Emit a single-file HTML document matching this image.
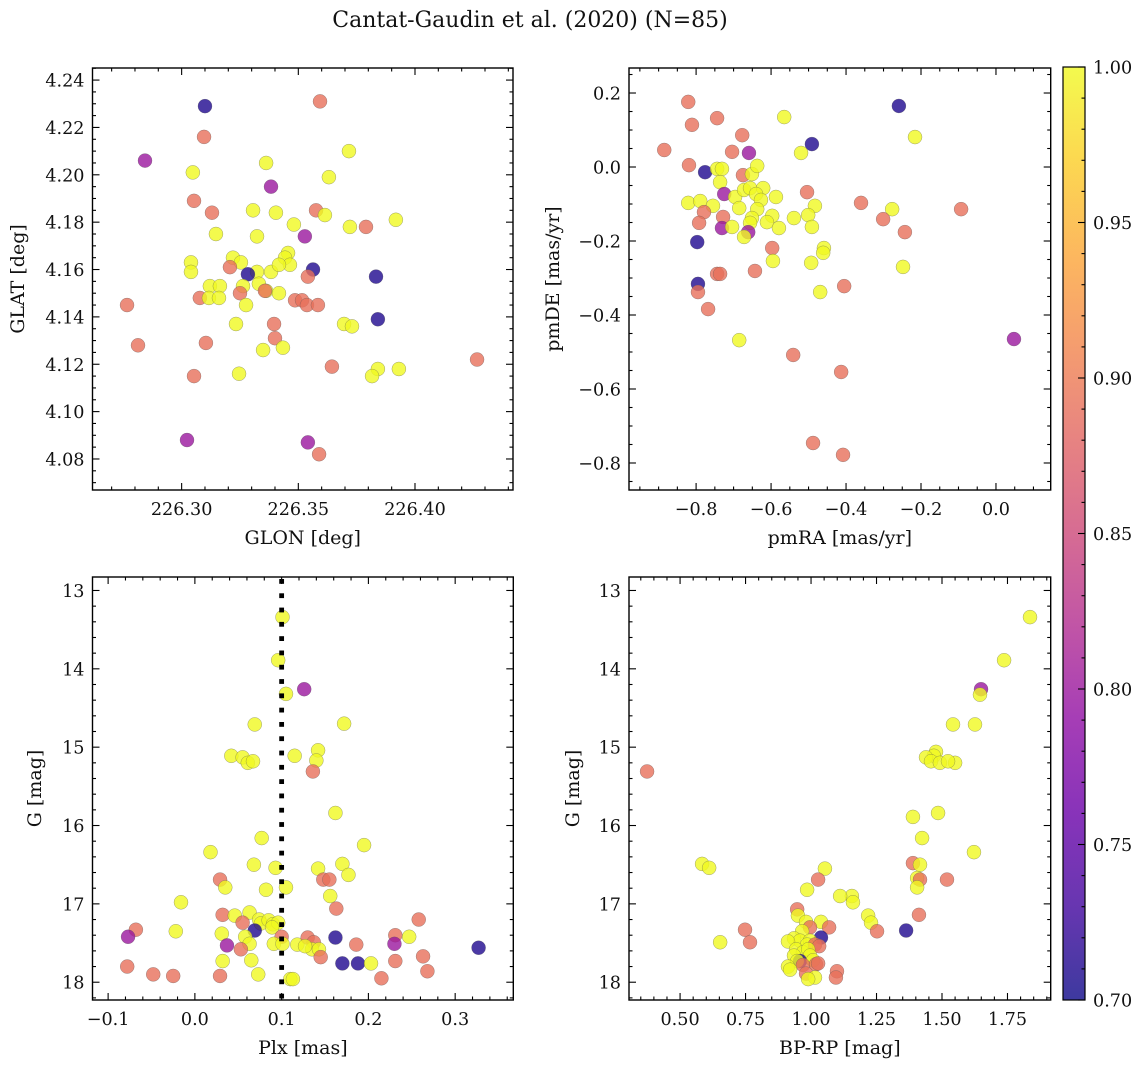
<!DOCTYPE html>
<html><head><meta charset="utf-8"><style>
html,body{margin:0;padding:0;background:#fff;}
svg{display:block;font-family:"DejaVu Serif","Liberation Serif",serif;}
</style></head><body>
<svg id="fig" xmlns="http://www.w3.org/2000/svg" width="1148" height="1067" viewBox="0 0 1148 1067">
<rect x="0" y="0" width="1148" height="1067" fill="#fff"/>
<text x="530" y="27" font-size="22" text-anchor="middle" fill="#111">Cantat-Gaudin et al. (2020) (N=85)</text>
<defs>
<linearGradient id="plasmaGrad" x1="0" y1="1" x2="0" y2="0">
<stop offset="0" stop-color="#0d0887"/><stop offset="0.1" stop-color="#41049d"/><stop offset="0.2" stop-color="#6a00a8"/><stop offset="0.3" stop-color="#8f0da4"/><stop offset="0.4" stop-color="#b12a90"/><stop offset="0.5" stop-color="#cc4778"/><stop offset="0.6" stop-color="#e16462"/><stop offset="0.7" stop-color="#f2844b"/><stop offset="0.8" stop-color="#fca636"/><stop offset="0.9" stop-color="#fcce25"/><stop offset="1" stop-color="#f0f921"/>
</linearGradient>
</defs>
</svg>
<script>
// ---- Panel 1: GLON vs GLAT ----
const glon = [226.3100,226.2843,226.3593,226.3096,226.3048,226.3362,226.3383,226.3717,226.3631,226.3053,226.3130,226.3306,226.3404,226.3576,226.3614,226.3918,226.3790,226.3721,226.3528,226.3147,226.3323,226.3481,226.3220,226.3254,226.3207,226.3040,226.3040,226.3456,226.3443,226.3464,226.3323,226.3383,226.3417,226.3563,226.3284,226.3541,226.3263,226.3331,226.3362,226.3417,226.3121,226.3164,226.3078,226.3117,226.3160,226.3250,226.3276,226.3357,226.3486,226.3516,226.3537,226.3584,226.3833,226.3841,226.2766,226.3233,226.3396,226.3696,226.3730,226.3400,226.3434,226.3349,226.3104,226.2813,226.3644,226.3841,226.3816,226.3931,226.4266,226.3053,226.3246,226.3023,226.3541,226.3589];
const glat = [4.229,4.206,4.231,4.216,4.201,4.205,4.195,4.210,4.199,4.189,4.184,4.185,4.184,4.185,4.183,4.181,4.178,4.178,4.174,4.175,4.174,4.179,4.165,4.163,4.161,4.163,4.159,4.167,4.165,4.162,4.159,4.159,4.162,4.160,4.158,4.157,4.153,4.154,4.151,4.150,4.153,4.153,4.148,4.148,4.148,4.150,4.145,4.151,4.147,4.147,4.145,4.145,4.157,4.139,4.145,4.137,4.137,4.137,4.136,4.131,4.127,4.126,4.129,4.128,4.119,4.118,4.115,4.118,4.122,4.115,4.116,4.088,4.087,4.082];
const prob1 = [0.71,0.80,0.89,0.89,1,1,0.80,1,1,0.89,0.89,1,1,0.89,1,1,0.89,1,0.80,1,1,1,1,1,0.89,1,1,1,1,1,1,1,1,0.71,0.71,0.89,1,1,1,1,1,1,0.89,1,1,0.89,1,0.89,0.89,0.89,0.89,0.89,0.71,0.71,0.89,1,0.89,1,1,0.89,1,1,0.89,0.89,0.89,1,1,1,0.89,0.89,1,0.80,0.80,0.89];
// ---- Panel 2: pmRA vs pmDE ----
const pmra = [-0.821,-0.744,-0.811,-0.565,-0.259,-0.677,-0.216,-0.885,-0.704,-0.659,-0.491,-0.520,-0.819,-0.776,-0.744,-0.731,-0.736,-0.675,-0.651,-0.637,-0.725,-0.696,-0.672,-0.656,-0.621,-0.640,-0.627,-0.587,-0.821,-0.789,-0.755,-0.779,-0.685,-0.637,-0.504,-0.483,-0.501,-0.491,-0.539,-0.597,-0.611,-0.579,-0.651,-0.656,-0.792,-0.728,-0.731,-0.704,-0.661,-0.672,-0.797,-0.360,-0.277,-0.301,-0.243,-0.597,-0.595,-0.459,-0.461,-0.493,-0.643,-0.744,-0.736,-0.248,-0.795,-0.795,-0.405,-0.469,-0.768,-0.685,-0.541,-0.413,0.048,-0.488,-0.408,-0.093];
const pmde = [0.176,0.132,0.114,0.135,0.165,0.086,0.081,0.046,0.041,0.038,0.062,0.038,0.005,-0.014,-0.005,-0.005,-0.041,-0.022,-0.019,0.003,-0.073,-0.081,-0.062,-0.057,-0.057,-0.073,-0.089,-0.081,-0.097,-0.092,-0.105,-0.122,-0.111,-0.114,-0.068,-0.105,-0.130,-0.162,-0.138,-0.132,-0.149,-0.165,-0.138,-0.151,-0.151,-0.135,-0.165,-0.162,-0.176,-0.189,-0.203,-0.097,-0.114,-0.141,-0.176,-0.219,-0.254,-0.219,-0.232,-0.259,-0.281,-0.289,-0.289,-0.270,-0.316,-0.338,-0.322,-0.338,-0.384,-0.468,-0.508,-0.554,-0.465,-0.746,-0.778,-0.114];
const prob2 = [0.89,0.89,0.89,1,0.71,0.89,1,0.89,0.89,0.80,0.71,1,0.89,0.71,1,1,1,0.89,1,1,0.80,1,1,1,1,1,1,1,1,1,1,0.89,1,1,0.89,1,1,1,1,1,1,1,1,1,0.89,0.89,0.80,1,0.80,1,0.71,0.89,1,0.89,0.89,0.89,1,1,1,1,0.89,0.89,0.89,1,0.71,0.89,0.89,1,0.89,1,0.89,0.89,0.80,0.89,0.89,0.89];
// ---- Panel 3: Plx vs G ----
const plx = [0.101,0.096,0.126,0.105,0.069,0.172,0.042,0.055,0.061,0.067,0.115,0.142,0.140,0.136,0.162,0.195,0.077,0.018,0.068,0.093,0.142,0.170,0.177,0.148,0.155,0.156,0.029,0.035,0.082,0.105,-0.016,0.163,0.032,0.046,0.063,0.055,0.074,0.076,0.085,0.090,0.096,0.069,0.031,0.058,0.089,0.100,-0.022,-0.068,-0.077,0.037,0.063,0.053,0.091,0.101,0.118,0.130,0.137,0.135,0.127,0.143,0.162,0.186,0.231,0.230,0.258,0.247,0.263,0.231,0.170,0.145,0.188,0.203,-0.078,-0.048,-0.025,0.032,0.065,0.110,0.113,0.029,0.073,0.215,0.268,0.327];
const gmag3 = [13.34,13.89,14.26,14.32,14.71,14.70,15.11,15.13,15.20,15.18,15.11,15.04,15.17,15.31,15.84,16.25,16.16,16.34,16.50,16.54,16.55,16.49,16.63,16.69,16.69,16.90,16.69,16.79,16.82,16.79,16.98,17.06,17.14,17.15,17.11,17.24,17.20,17.25,17.21,17.26,17.24,17.34,17.38,17.42,17.30,17.42,17.35,17.33,17.42,17.53,17.51,17.58,17.51,17.51,17.52,17.43,17.49,17.58,17.54,17.58,17.43,17.52,17.40,17.51,17.20,17.42,17.67,17.73,17.76,17.68,17.76,17.76,17.80,17.90,17.92,17.73,17.72,17.96,17.96,17.92,17.90,17.95,17.86,17.56];
const prob3 = [1,1,0.80,1,1,1,1,1,1,1,1,1,1,0.89,1,1,1,1,1,1,1,1,1,0.89,0.89,1,0.89,1,1,1,1,0.89,0.89,1,1,0.89,1,1,1,1,1,0.71,1,1,1,0.89,1,0.89,0.80,0.80,1,0.89,1,1,1,0.89,0.89,1,1,1,0.71,0.89,0.89,0.80,0.89,1,0.89,0.89,0.71,0.89,0.71,1,0.89,0.89,0.89,1,1,1,1,0.89,1,0.89,0.89,0.71];
const plxLine = [0.1];
// ---- Panel 4: BP-RP vs G ----
const bprp = [1.836,1.737,1.649,1.645,1.542,1.626,1.477,1.469,1.439,1.458,1.492,1.550,1.523,0.374,1.485,1.389,1.424,1.622,1.389,1.416,0.584,0.611,1.053,1.405,1.519,1.416,1.405,1.027,0.985,1.156,1.111,1.160,0.947,0.950,1.412,1.218,1.229,1.038,0.981,0.996,1.363,0.748,1.069,1.252,1.038,0.966,0.935,0.958,0.996,0.912,0.653,0.767,0.985,1.015,1.031,0.943,0.969,0.989,0.935,0.996,0.958,0.947,1.008,0.912,0.969,1.019,0.981,1.099,1.095,1.015,0.989,0.920,1.027];
const gmag4 = [13.34,13.89,14.26,14.33,14.71,14.71,15.06,15.11,15.13,15.18,15.20,15.20,15.18,15.31,15.84,15.89,16.16,16.34,16.48,16.50,16.49,16.54,16.55,16.67,16.69,16.69,16.79,16.69,16.82,16.90,16.90,16.98,17.07,17.15,17.14,17.15,17.24,17.23,17.23,17.30,17.34,17.33,17.30,17.35,17.43,17.35,17.44,17.47,17.47,17.48,17.49,17.49,17.52,17.52,17.54,17.58,17.62,17.58,17.66,17.66,17.73,17.73,17.72,17.80,17.78,17.77,17.89,17.86,17.94,17.94,17.96,17.84,17.76];
const prob4 = [1,1,0.80,1,1,1,1,1,1,1,1,1,1,0.89,1,1,1,1,0.89,1,1,1,1,1,0.89,0.89,1,0.89,1,1,1,1,0.89,1,0.89,1,1,1,1,0.89,0.71,0.89,0.89,0.89,0.71,1,1,1,1,1,1,0.89,1,0.89,0.89,1,1,1,1,1,0.71,1,1,1,0.89,0.89,0.89,0.89,0.89,1,1,1,0.89];
// ---- Colorbar ----
const cbarTicks = [0.70,0.75,0.80,0.85,0.90,0.95,1.00];

const NS = 'http://www.w3.org/2000/svg';
const svg = document.getElementById('fig');
const PL = ['#0d0887','#41049d','#6a00a8','#8f0da4','#b12a90','#cc4778','#e16462','#f2844b','#fca636','#fcce25','#f0f921'];
const TICK_FS = 17.6, LABEL_FS = 19;
function hex(c){return [parseInt(c.substr(1,2),16),parseInt(c.substr(3,2),16),parseInt(c.substr(5,2),16)];}
function plasma(p){
  let t=(p-0.7)/0.3; t=Math.max(0,Math.min(1,t));
  const f=t*10, i=Math.min(9,Math.floor(f)), r=f-i;
  const a=hex(PL[i]), b=hex(PL[i+1]);
  return 'rgb('+a.map((v,k)=>Math.round(v+(b[k]-v)*r)).join(',')+')';
}
function mk(tag, parent){const e=document.createElementNS(NS,tag);(parent||svg).appendChild(e);return e;}
function fmt(v,d){const s=Math.abs(v).toFixed(d);return (v< -1e-9?'\u2212':'')+s;}

function drawPanel(c, xs, ys, ps, name){
  const g = mk('g');
  
  
  const sx = v => c.L + (v - c.x0)/(c.x1 - c.x0)*(c.R - c.L);
  const sy = c.inv ? (v => c.T + (v - c.y0)/(c.y1 - c.y0)*(c.B - c.T)) : (v => c.B - (v - c.y0)/(c.y1 - c.y0)*(c.B - c.T));
  const pg = mk('g', g);
  
  
  for (let i=0;i<xs.length;i++){
    const ci = mk('circle', pg);
    
    
    ci.setAttribute('cx', sx(xs[i]).toFixed(2));
    ci.setAttribute('cy', sy(ys[i]).toFixed(2));
    ci.setAttribute('r', 7);
    ci.setAttribute('fill', plasma(ps[i]));
    ci.setAttribute('fill-opacity', 0.8);
    ci.setAttribute('stroke', '#555');
    ci.setAttribute('stroke-opacity', 0.55);
    ci.setAttribute('stroke-width', 0.5);
  }
  const tg = mk('g', g);
  
  
  function tickLine(x1,y1,x2,y2){const l=mk('line',tg);l.setAttribute('x1',x1);l.setAttribute('y1',y1);l.setAttribute('x2',x2);l.setAttribute('y2',y2);l.setAttribute('stroke','#000');l.setAttribute('stroke-width',1.1);}
  const xlo=Math.min(c.x0,c.x1), xhi=Math.max(c.x0,c.x1), ylo=Math.min(c.y0,c.y1), yhi=Math.max(c.y0,c.y1);
  for (let k=Math.ceil(xlo/c.xmin-1e-6); k*c.xmin<=xhi+1e-9; k++){
    const v=k*c.xmin, px=sx(v), maj=Math.abs(v/c.xmaj-Math.round(v/c.xmaj))<1e-6, len=maj?7:3.5;
    tickLine(px,c.B,px,c.B-len); tickLine(px,c.T,px,c.T+len);
    if (maj){
      const t=mk('text',tg);
      
      
      t.setAttribute('x',px); t.setAttribute('y',c.B+25); t.setAttribute('font-size',TICK_FS); t.setAttribute('text-anchor','middle'); t.setAttribute('fill','#111');
      t.textContent=fmt(v,c.xd);
    }
  }
  for (let k=Math.ceil(ylo/c.ymin-1e-6); k*c.ymin<=yhi+1e-9; k++){
    const v=k*c.ymin, py=sy(v), maj=Math.abs(v/c.ymaj-Math.round(v/c.ymaj))<1e-6, len=maj?7:3.5;
    tickLine(c.L,py,c.L+len,py); tickLine(c.R,py,c.R-len,py);
    if (maj){
      const t=mk('text',tg);
      
      
      t.setAttribute('x',c.L-8); t.setAttribute('y',py+6.5); t.setAttribute('font-size',TICK_FS); t.setAttribute('text-anchor','end'); t.setAttribute('fill','#111');
      t.textContent=fmt(v,c.yd);
    }
  }
  const fr = mk('rect', g);
  
  
  fr.setAttribute('x', c.L); fr.setAttribute('y', c.T); fr.setAttribute('width', c.R-c.L); fr.setAttribute('height', c.B-c.T);
  fr.setAttribute('fill', 'none'); fr.setAttribute('stroke', '#000'); fr.setAttribute('stroke-width', 1.4);
  const xl = mk('text', g);
  
  
  xl.setAttribute('x', (c.L+c.R)/2); xl.setAttribute('y', c.B+54); xl.setAttribute('font-size', LABEL_FS); xl.setAttribute('text-anchor', 'middle'); xl.setAttribute('fill', '#111');
  xl.textContent = c.xlabel;
  const yl = mk('text', g);
  
  
  const yx = c.ylx, yy = (c.T+c.B)/2;
  yl.setAttribute('x', yx); yl.setAttribute('y', yy); yl.setAttribute('font-size', LABEL_FS); yl.setAttribute('text-anchor', 'middle'); yl.setAttribute('fill', '#111');
  yl.setAttribute('transform', 'rotate(-90 '+yx+' '+yy+')');
  yl.textContent = c.ylabel;
  // dotted vertical reference line(s), drawn as small squares
  if (c.vline){
    for (const v of c.vline){
      const lg = mk('g', g);
      
      
      const xv = sx(v);
      for (let yy2 = c.T + 2; yy2 < c.B - 2; yy2 += 14.3){
        const sq = mk('rect', lg);
        sq.setAttribute('x', (xv - 2.4).toFixed(2));
        sq.setAttribute('y', yy2.toFixed(2));
        sq.setAttribute('width', 4.8);
        sq.setAttribute('height', 4.8);
        sq.setAttribute('fill', '#000');
      }
    }
  }
}

drawPanel({L:92.5,T:68,R:513,B:490,x0:226.2618,x1:226.4420,y0:4.0669,y1:4.2451,xmaj:0.05,xmin:0.01,xd:2,ymaj:0.02,ymin:0.005,yd:2,xlabel:'GLON [deg]',ylabel:'GLAT [deg]',ylx:24}, glon, glat, prob1, 'panel-position');
drawPanel({L:629,T:68,R:1050.7,B:490,x0:-0.979,x1:0.146,y0:-0.873,y1:0.2676,xmaj:0.2,xmin:0.05,xd:1,ymaj:0.2,ymin:0.05,yd:1,xlabel:'pmRA [mas/yr]',ylabel:'pmDE [mas/yr]',ylx:559}, pmra, pmde, prob2, 'panel-proper-motion');
drawPanel({L:92.5,T:577,R:513.3,B:1000,x0:-0.118,x1:0.367,y0:12.828,y1:18.227,inv:true,xmaj:0.1,xmin:0.02,xd:1,ymaj:1,ymin:0.2,yd:0,xlabel:'Plx [mas]',ylabel:'G [mag]',ylx:41,vline:plxLine}, plx, gmag3, prob3, 'panel-parallax');
drawPanel({L:629,T:577,R:1050.7,B:1000,x0:0.305,x1:1.915,y0:12.828,y1:18.227,inv:true,xmaj:0.25,xmin:0.05,xd:2,ymaj:1,ymin:0.2,yd:0,xlabel:'BP-RP [mag]',ylabel:'G [mag]',ylx:579}, bprp, gmag4, prob4, 'panel-cmd');

(function(){
  const L=1063,T=67,W=22,B=1000, v0=0.70, v1=1.00;
  const cy = v => B - (v-v0)/(v1-v0)*(B-T);
  const g = mk('g');
  
  
  const r = mk('rect', g);
  
  
  r.setAttribute('x', L); r.setAttribute('y', T); r.setAttribute('width', W); r.setAttribute('height', B-T);
  r.setAttribute('fill', 'url(#plasmaGrad)'); r.setAttribute('fill-opacity', 0.8);
  const rb = mk('rect', g);
  
  
  rb.setAttribute('x', L); rb.setAttribute('y', T); rb.setAttribute('width', W); rb.setAttribute('height', B-T);
  rb.setAttribute('fill', 'none'); rb.setAttribute('stroke', '#000'); rb.setAttribute('stroke-width', 1.2);
  for (let k=70;k<=100;k++){
    const v=k/100, py=cy(v), maj=(k%5===0);
    const l=mk('line',g);
    l.setAttribute('x1',L+W); l.setAttribute('x2',L+W-(maj?7:3.5)); l.setAttribute('y1',py); l.setAttribute('y2',py);
    l.setAttribute('stroke','#000'); l.setAttribute('stroke-width',1.1);
  }
  for (const v of cbarTicks){
    const t=mk('text',g);
    
    
    t.setAttribute('x',L+W+8); t.setAttribute('y',cy(v)+6.5); t.setAttribute('font-size',TICK_FS); t.setAttribute('fill','#111');
    t.textContent=v.toFixed(2);
  }
})();
</script>
</body></html>
